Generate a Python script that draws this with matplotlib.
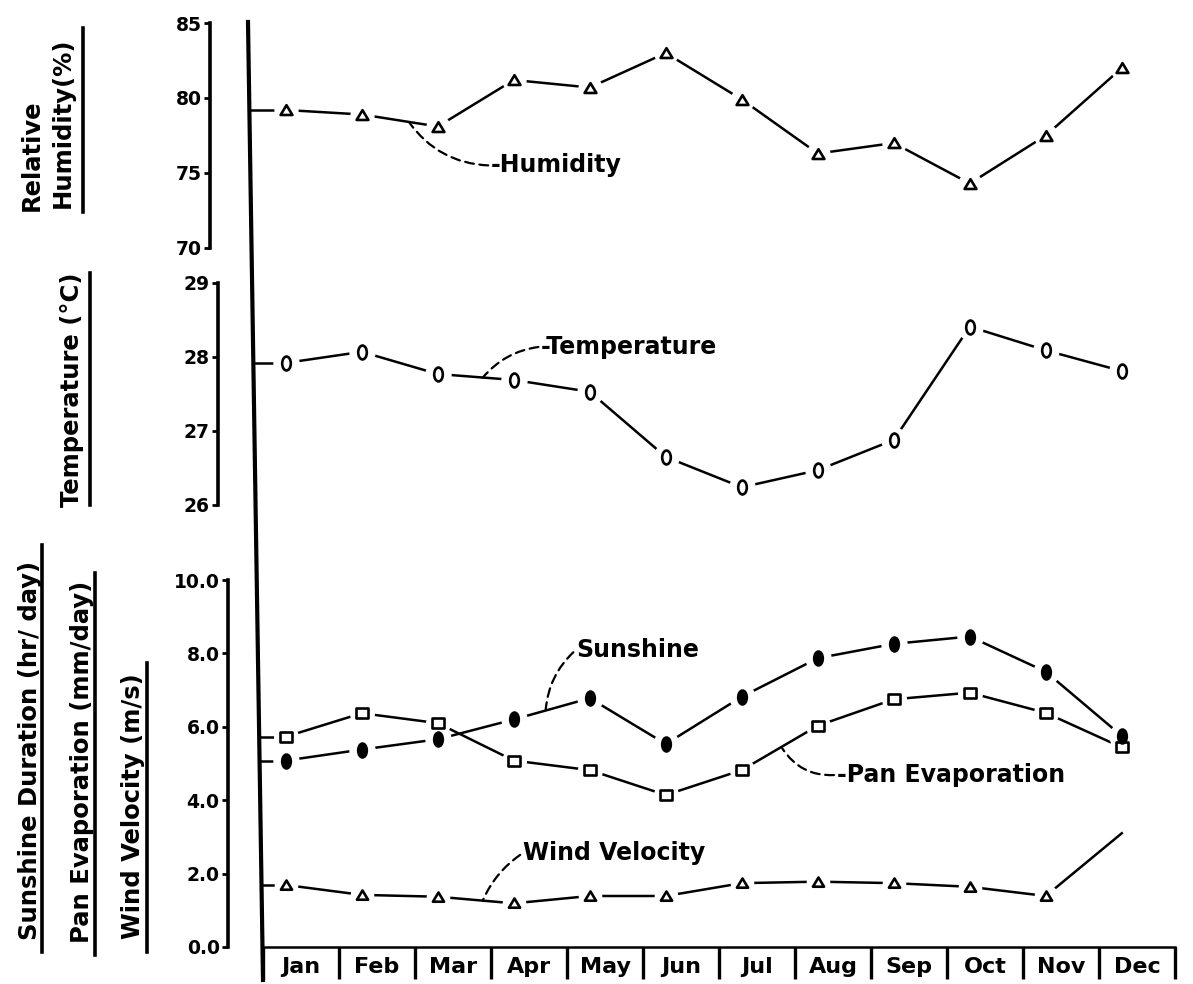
import matplotlib
matplotlib.use('Agg')
import matplotlib.pyplot as plt
import numpy as np
from matplotlib.path import Path
from matplotlib.transforms import Affine2D
from matplotlib.lines import Line2D

# ---------------- data ----------------
months = ['Jan', 'Feb', 'Mar', 'Apr', 'May', 'Jun', 'Jul', 'Aug', 'Sep', 'Oct', 'Nov', 'Dec']
humidity = [79.2, 78.9, 78.1, 81.2, 80.7, 83.0, 79.9, 76.3, 77.0, 74.3, 77.5, 82.0]
temperature = [27.92, 28.07, 27.77, 27.69, 27.53, 26.65, 26.24, 26.47, 26.88, 28.41, 28.09, 27.81]
sunshine = [5.08, 5.38, 5.66, 6.20, 6.78, 5.53, 6.82, 7.87, 8.26, 8.46, 7.50, 5.75]
pan_evap = [5.73, 6.37, 6.10, 5.08, 4.82, 4.14, 4.82, 6.03, 6.75, 6.93, 6.38, 5.44]
wind = [1.69, 1.42, 1.37, 1.19, 1.39, 1.39, 1.74, 1.78, 1.74, 1.64, 1.39, 3.10]
hum_ticks = [70, 75, 80, 85]
temp_ticks = [26, 27, 28, 29]
low_ticks = [0.0, 2.0, 4.0, 6.0, 8.0, 10.0]

plt.rcParams['font.family'] = ['DejaVu Sans']
plt.rcParams['font.weight'] = 'bold'

W, H = 1193, 984
fig = plt.figure(figsize=(W / 100, H / 100), dpi=100)
fig.patch.set_facecolor('white')


def frect(l, t, r, b):
    return [l / W, 1 - b / H, (r - l) / W, (b - t) / H]


X_L, X_R = 263, 1175
XLIM = (-0.3, 11.7)

ax_h = fig.add_axes(frect(X_L, 23, X_R, 248))
ax_t = fig.add_axes(frect(X_L, 283, X_R, 505))
ax_b = fig.add_axes(frect(X_L, 580, X_R, 947))

specs = [
    (ax_h, (70, 85), hum_ticks, [str(v) for v in hum_ticks], 53),
    (ax_t, (26, 29), temp_ticks, [str(v) for v in temp_ticks], 45),
    (ax_b, (0, 10), low_ticks, [f'{v:.1f}' for v in low_ticks], 35),
]
for ax, ylim, ticks, labels, off in specs:
    ax.set_xlim(*XLIM)
    ax.set_ylim(*ylim)
    ax.patch.set_alpha(0)
    for s in ('top', 'right'):
        ax.spines[s].set_visible(False)
    ax.spines['left'].set_position(('outward', off * 0.72))
    ax.spines['left'].set_linewidth(2.6)
    ax.set_yticks(ticks, labels=labels)
    ax.tick_params(axis='y', direction='out', length=4, width=2, labelsize=13.5, pad=2)
    for lab in ax.get_yticklabels():
        lab.set_fontweight('bold')

for ax in (ax_h, ax_t):
    ax.spines['bottom'].set_visible(False)
    ax.set_xticks([])

# x axis of the bottom panel: month columns
ax_b.spines['bottom'].set_linewidth(1.8)
ax_b.set_xticks(np.arange(12) + 0.2, labels=months)
ax_b.set_xticks(np.arange(13) - 0.3, minor=True)
ax_b.tick_params(axis='x', which='major', length=0, labelsize=16, pad=7)
ax_b.tick_params(axis='x', which='minor', length=23, width=2.4, direction='out')
for lab in ax_b.get_xticklabels():
    lab.set_fontweight('bold')

# main vertical (slightly skewed, as in the scan)
MAIN_TOP, MAIN_BOT = (248, 22), (263, 980)
fig.add_artist(Line2D([MAIN_TOP[0] / W, MAIN_BOT[0] / W],
                      [1 - MAIN_TOP[1] / H, 1 - MAIN_BOT[1] / H],
                      transform=fig.transFigure, color='k', lw=3.0))


def main_x_data(ax, yval):
    fig.canvas.draw()
    disp_y = ax.transData.transform((0, yval))[1]
    ypx = H - disp_y
    px = MAIN_TOP[0] + (ypx - MAIN_TOP[1]) * (MAIN_BOT[0] - MAIN_TOP[0]) / (MAIN_BOT[1] - MAIN_TOP[1])
    return ax.transData.inverted().transform((px, disp_y))[0]


ellipse = Affine2D().scale(0.62, 1.0).transform_path(Path.unit_circle())
rect_path = Path([(-0.6, -0.45), (0.6, -0.45), (0.6, 0.45), (-0.6, 0.45), (-0.6, -0.45)], closed=True)
tri = Path([(-0.5, -0.38), (0.5, -0.38), (0.0, 0.45), (-0.5, -0.38)], closed=True)

LW = 1.8


def series(ax, vals, marker, ms, face, n_marked=12):
    x = np.arange(len(vals))
    x0 = main_x_data(ax, vals[0])
    ax.plot([x0, 0], [vals[0], vals[0]], color='k', lw=LW, zorder=2, clip_on=False)
    ax.plot(x, vals, color='k', lw=LW, zorder=2, clip_on=False)
    ax.plot(x[:n_marked], vals[:n_marked], ls='none', marker='o', ms=ms + 8,
            mfc='white', mec='white', zorder=3, clip_on=False)
    ax.plot(x[:n_marked], vals[:n_marked], ls='none', marker=marker, ms=ms,
            mfc=face, mec='k', mew=1.9, zorder=4, clip_on=False)


series(ax_h, humidity, tri, 8.5, 'white')
series(ax_t, temperature, ellipse, 10, 'white')
series(ax_b, pan_evap, rect_path, 9, 'white')
series(ax_b, sunshine, ellipse, 10, 'black')
series(ax_b, wind, tri, 8, 'white', n_marked=11)

# annotations with dashed leaders
FS = 17


def note(ax, text, xy, xytext, rad):
    ax.annotate(text, xy=xy, xytext=xytext, textcoords='data', ha='left', va='center',
                fontsize=FS, fontweight='bold', zorder=6,
                arrowprops=dict(arrowstyle='-', linestyle=(0, (4, 2.5)), lw=1.6, color='k',
                                shrinkA=0, shrinkB=0, relpos=(0, 0.5),
                                connectionstyle=f'arc3,rad={rad}'))


note(ax_h, '-Humidity', (1.62, 78.4), (2.70, 75.5), -0.25)
note(ax_t, '-Temperature', (2.59, 27.72), (3.36, 28.14), 0.2)
note(ax_b, 'Sunshine', (3.42, 6.47), (3.82, 8.1), 0.2)
note(ax_b, '-Pan Evaporation', (6.53, 5.42), (7.25, 4.69), -0.3)
note(ax_b, 'Wind Velocity', (2.59, 1.26), (3.12, 2.56), 0.15)

# rotated axis titles with underline bars
YFS = 17.5
titles = [
    ('Relative', 32, 155),
    ('Humidity(%)', 63, 123),
    ('Temperature (°C)', 72, 390),
    ('Sunshine Duration (hr/ day)', 30, 750),
    ('Pan Evaporation (mm/day)', 82, 762),
    ('Wind Velocity (m/s)', 133, 806),
]
for s, x, y in titles:
    fig.text(x / W, 1 - y / H, s, rotation=90, ha='center', va='center',
             fontsize=YFS, fontweight='bold')

bars = [(83, 28, 212), (90, 273, 505), (42, 545, 952), (95, 573, 955), (147, 663, 952)]
for x, y0, y1 in bars:
    fig.add_artist(Line2D([x / W, x / W], [1 - y0 / H, 1 - y1 / H],
                          transform=fig.transFigure, color='k', lw=2.6))

fig.savefig('out.png', dpi=100, facecolor='white')
